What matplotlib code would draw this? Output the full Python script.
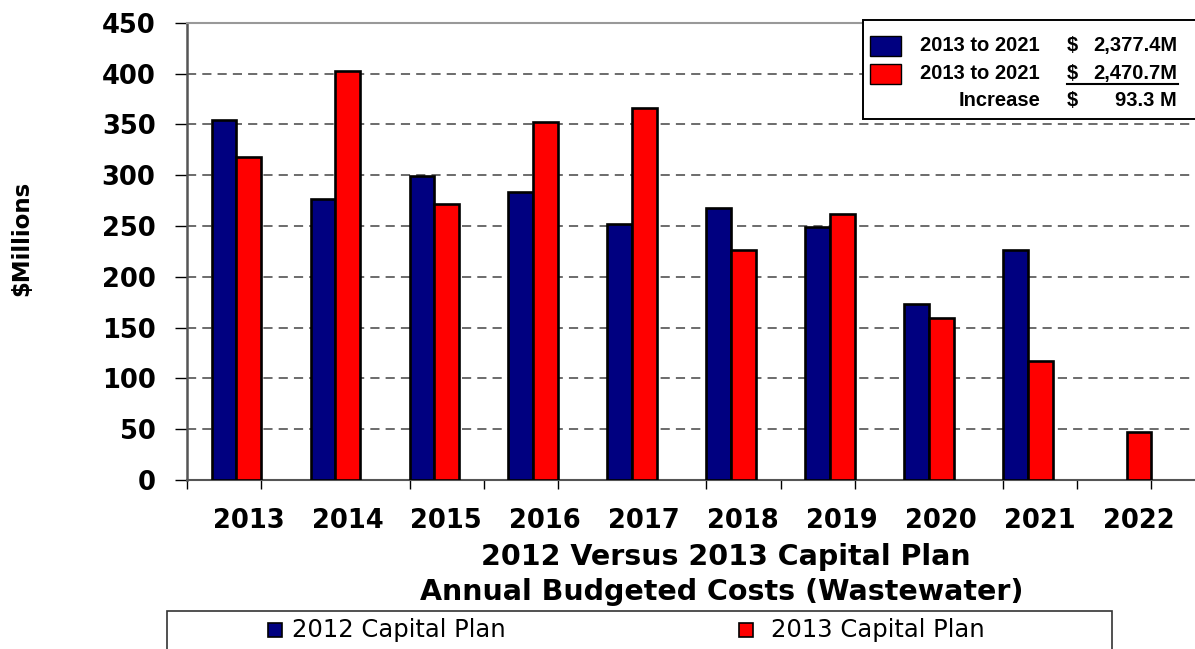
import matplotlib
matplotlib.use("Agg")
import matplotlib.pyplot as plt
from matplotlib.patches import Rectangle
from matplotlib.transforms import ScaledTranslation
from matplotlib.lines import Line2D
import numpy as np

# Annual budgeted costs, $ millions
years = ["2013", "2014", "2015", "2016", "2017", "2018", "2019", "2020", "2021", "2022"]
plan_2012 = [354, 276.5, 299.5, 283, 252, 268, 249, 173.5, 226, None]
plan_2013 = [318, 402, 272, 352, 366, 226, 262, 159, 117, 47.5]
series_names = ["2012 Capital Plan", "2013 Capital Plan"]
series_colors = ["#000080", "#FF0000"]

# Summary box rows: label, amount
summary_labels = ["2013 to 2021", "2013 to 2021", "Increase"]
summary_amounts = ["2,377.4M", "2,470.7M", "93.3 M"]

yticks = [0, 50, 100, 150, 200, 250, 300, 350, 400, 450]

W, H = 1195, 649
fig = plt.figure(figsize=(W / 100, H / 100), dpi=100)
fig.patch.set_facecolor("white")


def fx(x):
    return x / W


def fy(y):
    return 1 - y / H


ax = fig.add_axes([fx(187), fy(480), 1 - fx(187), (480 - 22.7) / H])

bold = dict(family="DejaVu Sans", weight="bold")

x = np.arange(len(years))
bw = 0.25
for i, (v2012, v2013) in enumerate(zip(plan_2012, plan_2013)):
    if v2012 is not None:
        ax.bar(x[i] - bw / 2, v2012, width=bw, color=series_colors[0],
               edgecolor="black", linewidth=1.9, zorder=3)
    if v2013 is not None:
        ax.bar(x[i] + bw / 2, v2013, width=bw, color=series_colors[1],
               edgecolor="black", linewidth=1.9, zorder=3)

ax.set_xlim(-0.5, 9.69)
ax.set_ylim(0, 450)

# gridlines
for t in yticks[1:-1]:
    ax.axhline(t, color="#444444", linewidth=1.1, linestyle=(0, (6, 4)), zorder=1)

ax.spines["right"].set_visible(False)
ax.spines["top"].set_color("#999999")
ax.spines["top"].set_linewidth(1.5)
ax.spines["left"].set_color("#555555")
ax.spines["left"].set_linewidth(1.8)
ax.spines["bottom"].set_color("#555555")
ax.spines["bottom"].set_linewidth(1.5)

ax.set_yticks(yticks)
ax.set_yticklabels([str(t) for t in yticks], fontsize=18.5, **bold)
ax.tick_params(axis="y", direction="out", length=8.6, width=1, color="black", pad=14)

ax.set_xticks(x)
ax.set_xticklabels(years, fontsize=18.5, **bold)
ax.tick_params(axis="x", which="major", length=0, pad=20)
ax.set_xticks(np.arange(-0.5, 9.7, 0.75), minor=True)
ax.tick_params(axis="x", which="minor", direction="out", length=6.5, width=1, color="black")
shift = ScaledTranslation(12 / 100, 0, fig.dpi_scale_trans)
for lab in ax.get_xticklabels():
    lab.set_transform(lab.get_transform() + shift)

# axis title
fig.text(fx(22), fy(238), "$Millions", rotation=90, ha="center", va="center",
         fontsize=16.5, **bold)

# chart titles
fig.text(fx(726), fy(557), "2012 Versus 2013 Capital Plan", ha="center", va="center",
         fontsize=20.5, **bold)
fig.text(fx(722), fy(592), "Annual Budgeted Costs (Wastewater)", ha="center", va="center",
         fontsize=20.5, **bold)

# summary box (upper right)
fig.patches.append(Rectangle((fx(863), fy(118.5)), fx(1200) - fx(863), (118.5 - 20) / H,
                             transform=fig.transFigure, facecolor="white",
                             edgecolor="black", linewidth=1.4, zorder=5))
row_y = [45.5, 73.5, 100]
box_font = dict(family="Liberation Sans", weight="bold", fontsize=14.5, zorder=6)
for r in range(3):
    if r < 2:
        fig.patches.append(Rectangle((fx(870), fy(row_y[r] + 10)), fx(901) - fx(870), 20 / H,
                                     transform=fig.transFigure,
                                     facecolor=series_colors[r], edgecolor="black",
                                     linewidth=1.0, zorder=6))
    fig.text(fx(1040), fy(row_y[r]), summary_labels[r], ha="right", va="center", **box_font)
    fig.text(fx(1067), fy(row_y[r]), "$", ha="left", va="center", **box_font)
    fig.text(fx(1177), fy(row_y[r]), summary_amounts[r], ha="right", va="center", **box_font)
fig.lines.append(Line2D([fx(1067), fx(1178)], [fy(84), fy(84)],
                        transform=fig.transFigure, color="black", linewidth=1.5, zorder=6))

# series legend (bottom)
fig.patches.append(Rectangle((fx(167), fy(665)), fx(1112) - fx(167), (665 - 610.5) / H,
                             transform=fig.transFigure, facecolor="white",
                             edgecolor="#333333", linewidth=1.2, zorder=5))
leg_sq_x = [268, 739]
leg_tx_x = [292, 771]
for k in range(2):
    fig.patches.append(Rectangle((fx(leg_sq_x[k]), fy(637)), 14 / W, 14 / H,
                                 transform=fig.transFigure, facecolor=series_colors[k],
                                 edgecolor="black", linewidth=1.2, zorder=6))
    fig.text(fx(leg_tx_x[k]), fy(630), series_names[k], ha="left", va="center",
             family="DejaVu Sans", fontsize=17.5, zorder=6)

fig.savefig("out.png", dpi=100, facecolor="white")
